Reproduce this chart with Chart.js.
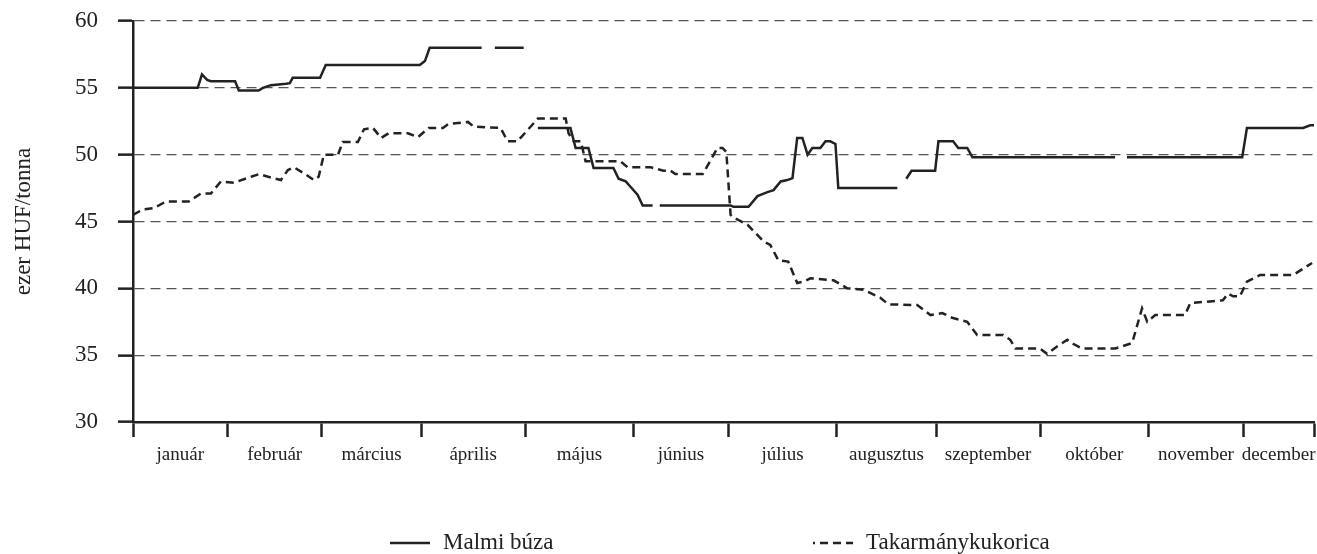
<!DOCTYPE html>
<html>
<head>
<meta charset="utf-8">
<script src="https://cdn.jsdelivr.net/npm/chart.js@4.4.1/dist/chart.umd.min.js"></script>
<style>
  html, body { margin: 0; padding: 0; background: #fff; }
  #wrap { width: 1317px; height: 554px; }
</style>
</head>
<body>
<div id="wrap"><canvas id="priceChart"></canvas></div>
<script>
// month names and month boundaries (in trading-day index)
const months = ['január', 'február', 'március', 'április', 'május', 'június',
    'július', 'augusztus', 'szeptember', 'október', 'november', 'december'];
const monthStarts = [0, 20, 40, 61, 83, 106, 126, 149, 170, 192, 215, 235, 250];
const yTicks = [30, 35, 40, 45, 50, 55, 60];

// Malmi búza (null = gap in the line)
const wheatX = [0, 13.7, 14.6, 15.7, 16.5, 21.6, 22.4, 26.6, 27.5, 29.2, 32.4, 33.2, 33.8, 39.6, 40.8,
    60.7, 61.8, 62.8, 73.8, 75, 76.6, 82.7, 84, 85.7, 92.6, 93.7, 96.4, 97.5, 101.7, 102.8, 104.3,
    105.3, 106.8, 107.9, 110.0, 111, 111.5, 126.5, 127.1, 130.3, 132.2, 134.3, 135.6, 137.1, 138.5,
    139.6, 140.6, 141.7, 142.8, 143.8, 145.5, 146.6, 147.6, 148.7, 149.3, 161.8, 163, 163.7, 164.8,
    169.8, 170.5, 173.6, 174.7, 176.6, 177.7, 207.9, 209, 210.4, 234.8, 235.8, 247.7, 249.2, 250];
const wheatY = [55.0, 55.0, 56.0, 55.6, 55.5, 55.5, 54.8, 54.8, 55.0, 55.2, 55.3, 55.35, 55.75, 55.75, 56.7,
    56.7, 57.0, 58.0, 58.0, null, 58.0, 58.0, null, 52.0, 52.0, 50.5, 50.5, 49.0, 49.0, 48.2, 48.0,
    47.6, 47.0, 46.2, 46.2, null, 46.2, 46.2, 46.1, 46.1, 46.9, 47.2, 47.35, 48.0, 48.1,
    48.25, 51.25, 51.25, 50.0, 50.5, 50.5, 51.0, 51.0, 50.8, 47.5, 47.5, null, 48.2, 48.8,
    48.8, 51.0, 51.0, 50.5, 50.5, 49.8, 49.8, null, 49.8, 49.8, 52.0, 52.0, 52.2, 52.2];

// Takarmánykukorica
const cornX = [0, 2.1, 4.4, 7.0, 11.8, 14.4, 16.5, 18.6, 21.4, 25.0, 26.7, 28.6, 31.3, 32.8, 34.1, 36.2,
    38.3, 39.3, 40.4, 43.4, 44.4, 47.6, 48.9, 50.8, 52.5, 54.1, 58.2, 60.3, 62.6, 65.6, 66.8, 70.9,
    72.1, 77.8, 79.3, 81.4, 85.7, 91.6, 92.2, 93.3, 94.8, 95.8, 103.2, 104.7, 109.6, 112.3, 113.8,
    114.8, 120.6, 122.7, 123.7, 124.8, 125.6, 126.5, 127.1, 130.1, 133.5, 134.9, 136.6, 138.7, 140.6,
    141.9, 143.4, 148.3, 151.2, 154.6, 158.2, 159.9, 166.0, 168.8, 171.3, 173.4, 176.6, 178.7, 184.2,
    185.7, 186.8, 192.0, 193.5, 195.6, 197.8, 199.0, 200.9, 207.9, 211.5, 213.6, 214.7, 216.4, 222.7,
    223.8, 230.7, 231.8, 232.9, 234.3, 235.8, 238.6, 245.6, 249.6];
const cornY = [45.5, 45.9, 46.0, 46.5, 46.5, 47.1, 47.1, 48.0, 47.9, 48.35, 48.55, 48.35, 48.1, 48.85, 49.05, 48.6,
    48.1, 48.35, 50.0, 50.0, 50.95, 50.95, 51.9, 52.0, 51.25, 51.6, 51.6, 51.3, 52.0, 52.0, 52.3, 52.45,
    52.1, 52.0, 51.0, 51.0, 52.7, 52.7, 51.6, 51.0, 51.0, 49.5, 49.5, 49.05, 49.05, 48.8, 48.8,
    48.55, 48.55, 49.85, 50.5, 50.5, 50.2, 45.5, 45.3, 44.75, 43.5, 43.25, 42.1, 42.0, 40.4,
    40.5, 40.75, 40.6, 40.0, 39.9, 39.3, 38.8, 38.75, 38.0, 38.15, 37.8, 37.5, 36.5, 36.5,
    36.15, 35.5, 35.5, 35.1, 35.65, 36.15, 35.85, 35.5, 35.5, 35.9, 38.5, 37.5, 38.0, 38.0,
    38.9, 39.1, 39.6, 39.4, 39.4, 40.5, 41.0, 41.0, 41.9];

const serif = "'Liberation Serif', 'Times New Roman', serif";
const ink = '#222';

// x ticks: month boundaries plus the middle of every month (label goes there)
var xTickValues = [];
for (let i = 0; i < months.length; i++) {
    xTickValues.push(monthStarts[i]);
    xTickValues.push((monthStarts[i] + monthStarts[i + 1]) / 2);
}
xTickValues.push(monthStarts[months.length]);

function toPoints(xs, ys) {
    return xs.map((x, i) => ({ x: x, y: ys[i] }));
}

// legend drawn in one wide row under the axis
const legendRow = {
    id: 'legendRow',
    afterDraw(chart) {
        const ctx = chart.ctx;
        const y = 543;
        const items = [
            { ds: chart.data.datasets[0], x: 390 },
            { ds: chart.data.datasets[1], x: 813 }
        ];
        ctx.save();
        ctx.font = '23px ' + serif;
        ctx.textBaseline = 'middle';
        ctx.fillStyle = ink;
        items.forEach(it => {
            ctx.strokeStyle = it.ds.borderColor;
            ctx.lineWidth = it.ds.borderWidth;
            ctx.setLineDash(it.ds.borderDash || []);
            ctx.lineDashOffset = it.ds.borderDash ? 6 : 0;
            ctx.beginPath();
            ctx.moveTo(it.x, y);
            ctx.lineTo(it.x + 40, y);
            ctx.stroke();
            ctx.fillText(it.ds.label, it.x + 53, y);
        });
        ctx.restore();
    }
};

const ctx = document.getElementById('priceChart').getContext('2d');

const priceChart = new Chart(ctx, {
    type: 'line',
    data: {
        datasets: [{
            label: 'Malmi búza',
            data: toPoints(wheatX, wheatY),
            borderColor: ink,
            borderWidth: 2.5,
            pointRadius: 0,
            tension: 0,
            spanGaps: false
        }, {
            label: 'Takarmánykukorica',
            data: toPoints(cornX, cornY),
            borderColor: ink,
            borderWidth: 2.5,
            borderDash: [8, 5],
            pointRadius: 0,
            tension: 0,
            spanGaps: false
        }]
    },
    options: {
        responsive: true,
        maintainAspectRatio: false,
        animation: false,
        layout: { padding: { top: 21, right: 3, bottom: 72, left: 0 } },
        plugins: {
            legend: { display: false },
            tooltip: { enabled: false }
        },
        scales: {
            x: {
                type: 'linear',
                min: 0,
                max: 250,
                afterBuildTicks: scale => {
                    scale.ticks = xTickValues.map(v => ({ value: v }));
                },
                afterFit: scale => {
                    scale.height = 60;
                    scale.paddingLeft = 0;
                    scale.paddingRight = 0;
                },
                ticks: {
                    autoSkip: false,
                    maxRotation: 0,
                    minRotation: 0,
                    padding: 7,
                    color: ink,
                    font: { family: serif, size: 19 },
                    callback: (value, index) => index % 2 ? months[(index - 1) / 2] : ''
                },
                grid: {
                    drawOnChartArea: false,
                    tickLength: 15,
                    tickWidth: 2.5,
                    tickColor: c => (c.index % 2 ? 'rgba(0,0,0,0)' : ink)
                },
                border: { display: true, color: ink, width: 2.5 }
            },
            y: {
                min: 30,
                max: 60,
                afterBuildTicks: scale => {
                    scale.ticks = yTicks.map(v => ({ value: v }));
                },
                afterFit: scale => {
                    scale.width = 133;
                    scale.paddingTop = 0;
                    scale.paddingBottom = 0;
                },
                ticks: {
                    padding: 20,
                    color: ink,
                    font: { family: serif, size: 23 }
                },
                title: {
                    display: true,
                    text: 'ezer HUF/tonna',
                    color: ink,
                    font: { family: serif, size: 23 },
                    padding: { top: 10, bottom: 0 }
                },
                grid: {
                    color: '#555',
                    lineWidth: 1.3,
                    tickLength: 15,
                    tickWidth: 2.5,
                    tickColor: ink,
                    tickBorderDash: []
                },
                border: { display: true, color: ink, width: 2.5, dash: [10, 6] }
            }
        }
    },
    plugins: [legendRow]
});
</script>
</body>
</html>
